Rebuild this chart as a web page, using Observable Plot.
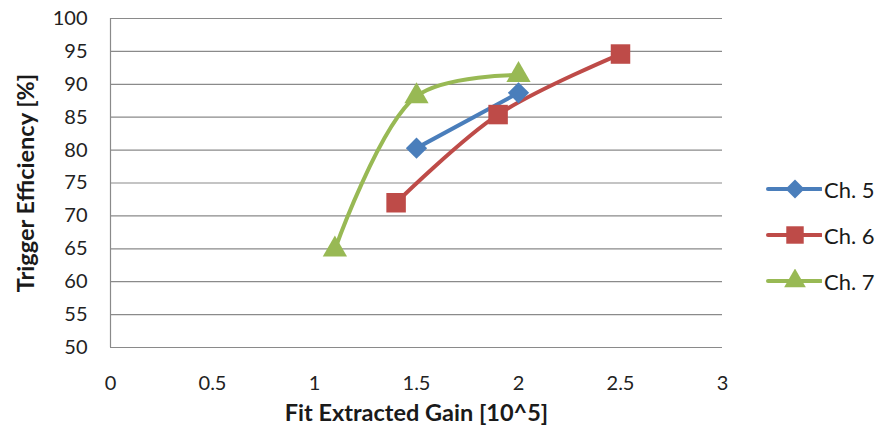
<!DOCTYPE html>
<html>
<head>
<meta charset="utf-8">
<script src="https://cdn.jsdelivr.net/npm/d3@7"></script>
<script src="https://cdn.jsdelivr.net/npm/@observablehq/plot@0.6"></script>
<style>
  html, body { margin: 0; padding: 0; background: #fff; }
  #wrap { position: relative; width: 890px; height: 432px; font-family: Lato, "Open Sans", sans-serif; }
  #legend { position: absolute; left: 764px; top: 166px; }
  .item { display: flex; align-items: center; height: 46px; font-size: 22px; color: #1a1a1a; }
  .item svg { display: block; margin-right: 2px; }
</style>
</head>
<body>
<div id="wrap"></div>
<script>
// Fit extracted gain (x, in units of 10^5) vs trigger efficiency (%) per channel
const seriesNames = ["Ch. 5", "Ch. 6", "Ch. 7"];
const seriesColors = ["#4A7EBB", "#BE4B48", "#98B954"];
const seriesSymbols = ["diamond2", "square", "triangle"];

const ch5Gain = [1.5, 2.0];
const ch5Eff = [80.3, 88.7];
const ch6Gain = [1.4, 1.9, 2.5];
const ch6Eff = [72.0, 85.4, 94.6];
const ch7Gain = [1.1, 1.5, 2.0];
const ch7Eff = [64.9, 88.2, 91.4];

const xTicks = [0, 0.5, 1, 1.5, 2, 2.5, 3];
const yTicks = [50, 55, 60, 65, 70, 75, 80, 85, 90, 95, 100];

const rows = [];
[[ch5Gain, ch5Eff], [ch6Gain, ch6Eff], [ch7Gain, ch7Eff]].forEach(([gx, ey], i) => {
  gx.forEach((g, j) => rows.push({series: seriesNames[i], gain: g, eff: ey[j]}));
});

// marker radius per series (pixels)
const markerR = [9.6, 11, 9];

const chart = Plot.plot({
  width: 890,
  height: 432,
  marginLeft: 110,
  marginRight: 168,
  marginTop: 18,
  marginBottom: 85,
  style: {fontFamily: "Lato, 'Open Sans', sans-serif", fontSize: "20px", color: "#222", background: "#fff"},
  x: {domain: [0, 3], ticks: xTicks, tickFormat: d => String(d), label: null},
  y: {domain: [50, 100], ticks: yTicks, label: null},
  color: {domain: seriesNames, range: seriesColors},
  symbol: {domain: seriesNames, range: seriesSymbols},
  marks: [
    Plot.ruleY(yTicks.filter(d => d > 50), {stroke: "#8a8a8a", strokeWidth: 1.2}),
    Plot.ruleY([50], {stroke: "#8a8a8a", strokeWidth: 1.2}),
    Plot.ruleX([0], {stroke: "#8a8a8a", strokeWidth: 1.2}),
    Plot.axisX({ticks: xTicks, tickSize: 0, tickPadding: 28, tickFormat: d => String(d), fontSize: 20, label: null}),
    Plot.axisY({ticks: yTicks, tickSize: 0, tickPadding: 23, fontSize: 20, label: null}),
    Plot.line(rows, {x: "gain", y: "eff", z: "series", stroke: "series", strokeWidth: 4, curve: "catmull-rom"}),
    ...seriesNames.map((name, i) =>
      Plot.dot(rows.filter(d => d.series === name), {x: "gain", y: "eff", symbol: "series", fill: "series", r: markerR[i], stroke: null})
    ),
    Plot.text(["Fit Extracted Gain [10^5]"], {frameAnchor: "bottom", dy: 66, lineAnchor: "middle", textAnchor: "middle", fontSize: 23.5, fontWeight: "bold", fill: "#1a1a1a"}),
    Plot.text(["Trigger Efficiency [%]"], {frameAnchor: "left", dx: -84, rotate: -90, textAnchor: "middle", lineAnchor: "middle", fontSize: 23.5, fontWeight: "bold", fill: "#1a1a1a"})
  ]
});
document.getElementById("wrap").appendChild(chart);

// Legend: line with centred marker, then series name
const legend = document.createElement("div");
legend.id = "legend";
const symMap = {diamond2: d3.symbolDiamond2, square: d3.symbolSquare, triangle: d3.symbolTriangle};
seriesNames.forEach((name, i) => {
  const item = document.createElement("div");
  item.className = "item";
  const r = markerR[i];
  const path = d3.symbol(symMap[seriesSymbols[i]], Math.PI * r * r * 0.8)();
  item.innerHTML = `<svg width="58" height="24"><line x1="4" x2="57" y1="12" y2="12" stroke="${seriesColors[i]}" stroke-width="4" stroke-linecap="round"/><path d="${path}" transform="translate(31,12)" fill="${seriesColors[i]}"/></svg><span>${name}</span>`;
  legend.appendChild(item);
});
document.getElementById("wrap").appendChild(legend);
</script>
</body>
</html>
